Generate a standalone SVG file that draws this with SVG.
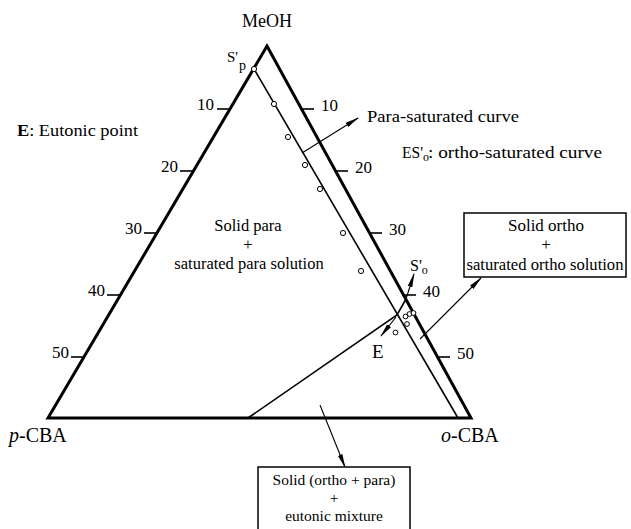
<svg xmlns="http://www.w3.org/2000/svg" width="631" height="529" viewBox="0 0 631 529" font-family="'Liberation Serif','Times New Roman',serif">
<defs>
<style>
text{font-family:"Liberation Serif","Times New Roman",serif;fill:#000}
.lbl{font-size:16.5px}
.num{font-size:17px}
.thick{stroke:#000;stroke-width:3;fill:none;stroke-linejoin:miter}
.thin{stroke:#000;stroke-width:1.6;fill:none}
.tick{stroke:#000;stroke-width:1.6}
.arr{stroke:#000;stroke-width:1.1;fill:none;marker-end:url(#ah)}
.pt{fill:#fff;stroke:#000;stroke-width:1}
.box{fill:#fff;stroke:#000;stroke-width:1.5}
</style>
<marker id="ah" markerWidth="14" markerHeight="6" refX="13" refY="3" orient="auto" markerUnits="userSpaceOnUse">
<path d="M0,0.6 L14,3 L0,5.4 Z" fill="#000"/>
</marker>
</defs>
<rect width="631" height="529" fill="#fff"/>

<g id="triangle">
<path class="thick" d="M48,418 L267,46 L471,418 Z"/>
</g>

<g id="axis-left">
<line class="tick" x1="217" y1="109" x2="230" y2="109"/>
<line class="tick" x1="180" y1="171" x2="193" y2="171"/>
<line class="tick" x1="144" y1="233" x2="157" y2="233"/>
<line class="tick" x1="107" y1="295" x2="120" y2="295"/>
<line class="tick" x1="71" y1="357" x2="84" y2="357"/>
<text class="num" x="214" y="110" text-anchor="end">10</text>
<text class="num" x="178" y="172" text-anchor="end">20</text>
<text class="num" x="142" y="234" text-anchor="end">30</text>
<text class="num" x="105" y="296" text-anchor="end">40</text>
<text class="num" x="69" y="358" text-anchor="end">50</text>
</g>

<g id="axis-right">
<line class="tick" x1="301" y1="109" x2="314" y2="109"/>
<line class="tick" x1="335" y1="171" x2="348" y2="171"/>
<line class="tick" x1="369" y1="233" x2="382" y2="233"/>
<line class="tick" x1="403" y1="295" x2="416" y2="295"/>
<line class="tick" x1="437" y1="357" x2="450" y2="357"/>
<text class="num" x="321" y="111">10</text>
<text class="num" x="355" y="173">20</text>
<text class="num" x="389" y="235">30</text>
<text class="num" x="423" y="297">40</text>
<text class="num" x="457" y="359">50</text>
</g>

<g id="vertex-labels">
<text x="267" y="27" font-size="18" text-anchor="middle">MeOH</text>
<text x="9" y="442" font-size="20"><tspan font-style="italic">p</tspan>-CBA</text>
<text x="441" y="442" font-size="20"><tspan font-style="italic">o</tspan>-CBA</text>
</g>

<g id="para-curve">
<line class="thin" x1="254" y1="69" x2="458" y2="418"/>
</g>

<g id="eutonic-line">
<polyline class="thin" points="248,418 397,315 406,299"/>
</g>

<g id="data-points">
<circle class="pt" cx="254" cy="69" r="2.6"/>
<circle class="pt" cx="274" cy="104" r="2.6"/>
<circle class="pt" cx="288" cy="137" r="2.6"/>
<circle class="pt" cx="305" cy="165" r="2.6"/>
<circle class="pt" cx="320" cy="189" r="2.6"/>
<circle class="pt" cx="343" cy="233" r="2.6"/>
<circle class="pt" cx="361" cy="271" r="2.6"/>
<circle class="pt" cx="405.5" cy="316.5" r="2.4"/>
<circle class="pt" cx="409.5" cy="314" r="2.4"/>
<circle class="pt" cx="413.5" cy="313" r="2.4"/>
<circle class="pt" cx="407" cy="324" r="2.4"/>
<circle class="pt" cx="395.5" cy="332.5" r="2.4"/>
</g>

<g id="point-labels">
<text x="227" y="62" font-size="15">S'<tspan font-size="14" dy="8" dx="1">p</tspan></text>
<text x="410" y="271" font-size="16">S'<tspan font-size="12" dy="3">o</tspan></text>
<text x="372" y="358" font-size="19">E</text>
</g>

<g id="connectors">
<line class="arr" x1="302" y1="153" x2="358" y2="118"/>
<line class="arr" x1="406" y1="299" x2="414" y2="274"/>
<line class="arr" x1="396" y1="317" x2="381" y2="336"/>
<line class="arr" x1="420" y1="339" x2="481" y2="278"/>
<line class="arr" x1="320" y1="405" x2="345" y2="467"/>
</g>

<g id="legend">
<text class="lbl" x="17" y="136" textLength="121" lengthAdjust="spacingAndGlyphs"><tspan font-weight="bold">E</tspan>: Eutonic point</text>
<text class="lbl" x="367" y="122" textLength="152" lengthAdjust="spacingAndGlyphs">Para-saturated curve</text>
<text class="lbl" x="402" y="158" textLength="21" lengthAdjust="spacingAndGlyphs">ES'</text>
<text x="423" y="161" font-size="12">o</text>
<text class="lbl" x="428" y="158" textLength="174" lengthAdjust="spacingAndGlyphs">: ortho-saturated curve</text>
</g>

<g id="region-para">
<text class="lbl" x="248" y="231" text-anchor="middle">Solid para</text>
<text class="lbl" x="248" y="250" text-anchor="middle">+</text>
<text class="lbl" x="249" y="269" text-anchor="middle">saturated para solution</text>
</g>

<g id="box-ortho">
<rect class="box" x="464" y="213" width="162" height="64"/>
<text x="546" y="231" font-size="17" text-anchor="middle">Solid ortho</text>
<text x="546" y="250" font-size="17" text-anchor="middle">+</text>
<text x="545" y="270" font-size="17" text-anchor="middle" textLength="157" lengthAdjust="spacingAndGlyphs">saturated ortho solution</text>
</g>

<g id="box-eutonic">
<rect class="box" x="258" y="467" width="152" height="70"/>
<text x="334" y="485" font-size="15.5" text-anchor="middle">Solid (ortho + para)</text>
<text x="334" y="503" font-size="15.5" text-anchor="middle">+</text>
<text x="334" y="521" font-size="15.5" text-anchor="middle">eutonic mixture</text>
</g>
</svg>
